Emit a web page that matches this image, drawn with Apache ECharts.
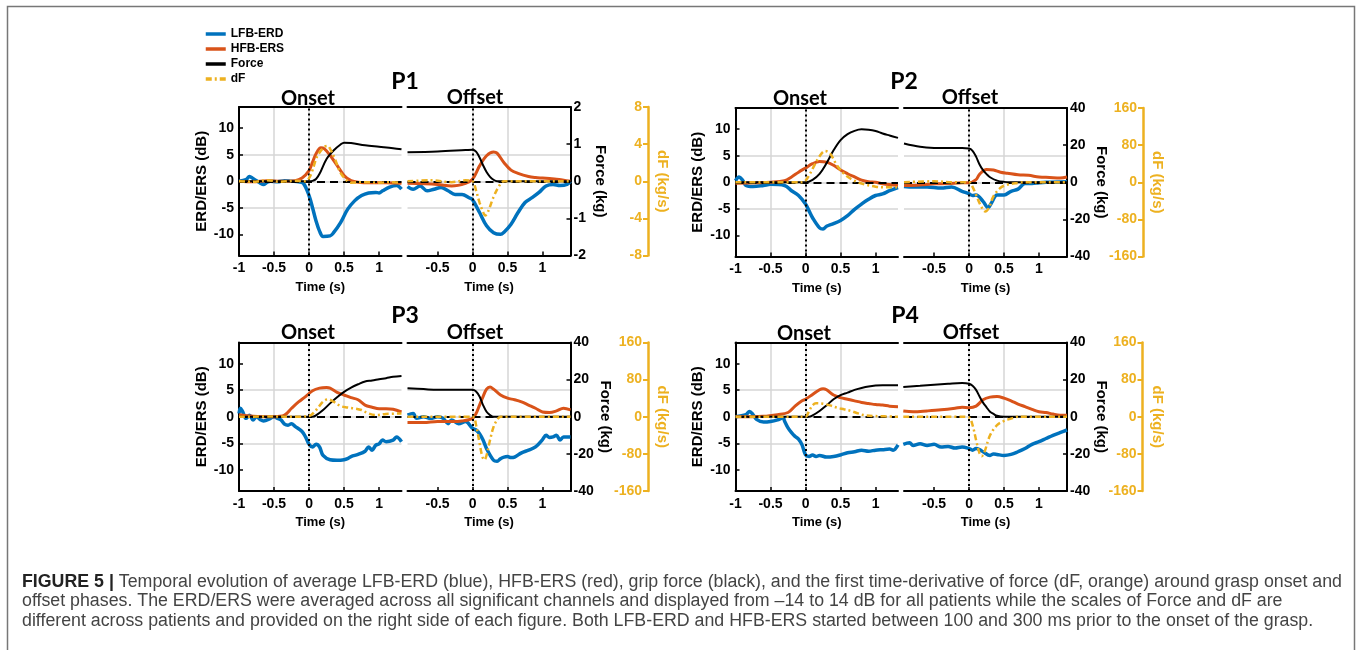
<!DOCTYPE html>
<html>
<head>
<meta charset="utf-8">
<script src="https://cdn.jsdelivr.net/npm/echarts@6/dist/echarts.min.js"></script>
<style>
  html, body { margin: 0; padding: 0; background: #fff; }
  #chart { width: 1360px; height: 650px; }
</style>
</head>
<body>
<div id="chart"></div>
<script>
/* ---- data: [time (s), value] ---- */
// P1 onset
var p1OnERD = [[-1,0],[-0.9,0.3],[-0.85,0.9],[-0.8,0.5],[-0.75,0.1],[-0.7,-0.3],[-0.65,-0.6],[-0.6,-0.2],[-0.55,0],[-0.45,-0.1],[-0.35,0.1],[-0.25,0],[-0.15,-0.1],[-0.08,-0.4],[0,-2.7],[0.05,-5],[0.1,-7.5],[0.15,-9.4],[0.2,-10.4],[0.3,-10.3],[0.35,-9.7],[0.45,-7.8],[0.55,-5.3],[0.65,-3.7],[0.75,-2.7],[0.85,-2.2],[0.95,-2.1],[1.0,-2.2],[1.05,-1.8],[1.15,-1.1],[1.25,-0.8],[1.32,-1.5]];
var p1OnERS = [[-1,0],[-0.8,-0.1],[-0.6,0.1],[-0.4,0],[-0.2,0.1],[-0.1,0.6],[0,2],[0.05,3.6],[0.1,5.2],[0.17,6.3],[0.22,6.1],[0.3,4.9],[0.4,3],[0.5,1.1],[0.6,0.1],[0.7,-0.2],[0.9,-0.3],[1.1,-0.3],[1.32,-0.4]];
var p1OnForce = [[-1,0],[0,0],[0.05,0.01],[0.1,0.06],[0.15,0.2],[0.25,0.6],[0.35,0.83],[0.45,0.99],[0.5,1.04],[0.6,1.03],[0.8,0.97],[1.0,0.93],[1.2,0.89],[1.32,0.86]];
var p1OnDF = [[-1,0],[-0.8,-0.05],[-0.6,0.1],[-0.4,-0.05],[-0.2,0.05],[-0.05,0],[0,0.33],[0.05,1.2],[0.1,2.4],[0.15,3.1],[0.22,3.7],[0.27,3.8],[0.3,3.5],[0.37,2.4],[0.45,0.9],[0.55,0],[0.6,-0.15],[0.8,-0.1],[1.0,-0.15],[1.2,-0.1],[1.32,-0.15]];
// P1 offset
var p1OffERD = [[-0.93,-1.0],[-0.85,-1.5],[-0.75,-0.9],[-0.65,-1.8],[-0.55,-1.5],[-0.45,-1.2],[-0.35,-1.8],[-0.25,-2.5],[-0.15,-2.5],[-0.05,-3.1],[0,-3.5],[0.1,-5.9],[0.2,-8.4],[0.3,-9.7],[0.4,-10],[0.45,-9.6],[0.55,-8.1],[0.65,-5.9],[0.75,-4],[0.85,-3.1],[0.95,-2.1],[1.05,-0.9],[1.15,-0.6],[1.25,-0.8],[1.35,-0.6],[1.4,0]];
var p1OffERS = [[-0.93,-0.4],[-0.5,-0.6],[-0.3,-0.9],[-0.1,-0.4],[0,0.4],[0.1,2.9],[0.2,4.8],[0.3,5.5],[0.35,5.3],[0.45,3.5],[0.55,2.1],[0.65,1.5],[0.8,0.9],[0.9,0.7],[1.0,0.6],[1.1,0.5],[1.2,0.4],[1.4,0]];
var p1OffForce = [[-0.93,0.78],[-0.5,0.8],[-0.1,0.84],[0,0.85],[0.05,0.8],[0.1,0.64],[0.15,0.43],[0.2,0.25],[0.25,0.12],[0.3,0.04],[0.35,0],[1.4,0]];
var p1OffDF = [[-0.93,0],[-0.6,0.1],[-0.3,-0.1],[-0.1,0.1],[0,0],[0.05,-1],[0.1,-2.3],[0.15,-3.3],[0.18,-3.7],[0.22,-3.3],[0.3,-1.7],[0.38,-0.5],[0.45,0],[1.4,0]];
// P2 onset
var p2OnERD = [[-1,0.3],[-0.95,1.0],[-0.9,0.4],[-0.85,-0.6],[-0.75,-0.8],[-0.6,-0.6],[-0.5,-0.4],[-0.3,-0.6],[-0.2,-1.6],[-0.1,-2.5],[0,-4.1],[0.05,-5.4],[0.1,-6.7],[0.2,-8.6],[0.25,-8.8],[0.3,-8.3],[0.4,-7.8],[0.5,-7.2],[0.6,-6.3],[0.7,-5.1],[0.8,-4.1],[0.9,-3.2],[1.0,-2.5],[1.1,-2.2],[1.2,-1.6],[1.32,-1.0]];
var p2OnERS = [[-1,-0.2],[-0.7,-0.1],[-0.5,0],[-0.3,0.3],[-0.2,1.0],[-0.1,1.9],[0,2.7],[0.1,3.5],[0.2,3.9],[0.3,3.8],[0.4,3.2],[0.5,2.3],[0.6,1.6],[0.7,1.0],[0.8,0.4],[0.9,0.1],[1.0,0],[1.1,-0.3],[1.32,-0.6]];
var p2OnForce = [[-1,0],[0,0],[0.1,1.3],[0.2,4.5],[0.3,10.3],[0.4,17.2],[0.5,22.7],[0.6,25.9],[0.7,27.7],[0.8,28.5],[0.9,28.3],[1.0,27.6],[1.1,26.3],[1.2,25.2],[1.32,23.9]];
var p2OnDF = [[-1,0],[-0.05,0],[0,3.6],[0.05,14.5],[0.1,29],[0.2,56],[0.28,67.5],[0.35,62],[0.45,36],[0.55,18],[0.65,7],[0.75,0],[0.85,-5],[1.0,-9.5],[1.1,-11],[1.32,-11]];
// P2 offset
var p2OffERD = [[-0.93,-0.8],[-0.8,-0.9],[-0.6,-0.9],[-0.4,-1.1],[-0.25,-0.9],[-0.1,-1.7],[0,-2.2],[0.05,-2.5],[0.1,-2.4],[0.2,-3.6],[0.27,-4.8],[0.32,-3.9],[0.4,-2.4],[0.5,-2.4],[0.6,-1.7],[0.7,-1.3],[0.8,-0.25],[0.9,-0.25],[1.0,-0.1],[1.1,0],[1.4,0.1]];
var p2OffERS = [[-0.93,-0.6],[-0.7,-0.5],[-0.5,-0.3],[-0.3,-0.25],[-0.1,-0.1],[0,-0.1],[0.1,0.5],[0.15,1.5],[0.25,2.4],[0.35,2.3],[0.45,1.9],[0.55,1.7],[0.7,1.4],[0.85,1.3],[1.0,1.0],[1.15,0.9],[1.3,0.8],[1.4,1.0]];
var p2OffForce = [[-0.93,20.9],[-0.7,19.1],[-0.5,18.5],[-0.3,18.4],[-0.1,18.4],[0,18.2],[0.05,16.9],[0.1,13.8],[0.15,9.6],[0.2,6.5],[0.25,4.4],[0.3,2.7],[0.4,0.9],[0.5,0.2],[0.6,0],[1.4,0]];
var p2OffDF = [[-0.93,0],[-0.5,2],[-0.2,0],[0,0],[0.05,-10],[0.1,-27],[0.15,-45],[0.2,-59],[0.23,-63],[0.28,-56],[0.35,-30],[0.45,-12],[0.55,-5],[0.7,-1.5],[0.8,0],[1.4,0]];
// P3 onset
var p3OnERD = [[-1,0.6],[-0.98,1.6],[-0.95,1],[-0.9,-0.3],[-0.85,0.3],[-0.8,-0.6],[-0.75,0],[-0.7,-0.5],[-0.65,-0.8],[-0.55,-0.3],[-0.5,0],[-0.45,-0.3],[-0.4,-0.6],[-0.35,-1.4],[-0.3,-1.6],[-0.25,-1.3],[-0.2,-1.8],[-0.1,-2.8],[-0.05,-3.8],[0,-5.2],[0.05,-5.7],[0.1,-5.2],[0.15,-5.7],[0.2,-7.3],[0.3,-8.1],[0.4,-8.2],[0.5,-8.1],[0.55,-7.9],[0.6,-7.5],[0.7,-7.1],[0.8,-6.5],[0.85,-5.7],[0.9,-6.3],[0.95,-5.4],[1.0,-5.1],[1.05,-4.4],[1.1,-4.7],[1.2,-4.4],[1.25,-3.8],[1.32,-4.7]];
var p3OnERS = [[-1,0.4],[-0.8,0.1],[-0.5,0],[-0.35,0.3],[-0.25,1.6],[-0.15,2.8],[-0.05,3.8],[0.05,4.9],[0.15,5.4],[0.25,5.5],[0.3,5.4],[0.4,4.6],[0.5,4.1],[0.6,3.6],[0.7,3.2],[0.8,2.2],[0.9,1.8],[1.0,1.5],[1.1,1.5],[1.2,1.4],[1.32,0.9]];
var p3OnForce = [[-1,0],[0.05,0],[0.12,1.3],[0.2,3.6],[0.3,7.2],[0.4,10.5],[0.5,13.4],[0.6,15.7],[0.7,17.5],[0.8,19],[0.9,19.5],[1.0,20.2],[1.1,20.8],[1.2,21.5],[1.32,22]];
var p3OnDF = [[-1,0],[-0.5,0.5],[-0.2,0],[0,1.5],[0.1,14.5],[0.2,32.5],[0.27,37.6],[0.35,32.5],[0.45,23],[0.55,20],[0.65,18],[0.75,14.5],[0.85,7],[0.95,3.6],[1.1,6],[1.32,7]];
// P3 offset
var p3OffERD = [[-0.93,0.3],[-0.85,0.6],[-0.8,-0.3],[-0.7,0],[-0.6,-0.3],[-0.5,0],[-0.42,-0.3],[-0.35,-1.3],[-0.3,-0.6],[-0.2,-1.3],[-0.1,-0.9],[0,-2.2],[0.05,-2.5],[0.1,-3.2],[0.15,-4.4],[0.2,-6],[0.3,-8.2],[0.35,-8.4],[0.4,-7.9],[0.45,-7.6],[0.5,-7.5],[0.55,-7.7],[0.6,-7.6],[0.7,-6.8],[0.8,-6.3],[0.9,-5.7],[1.0,-4.3],[1.05,-3.5],[1.1,-3.9],[1.15,-3.8],[1.2,-3.5],[1.25,-4.4],[1.3,-3.8],[1.4,-3.8]];
var p3OffERS = [[-0.93,-1.1],[-0.7,-1.1],[-0.5,-0.9],[-0.3,-0.9],[-0.15,-0.8],[0,-0.3],[0.05,0.6],[0.1,2.2],[0.15,3.8],[0.2,5.2],[0.25,5.6],[0.3,5.2],[0.4,4.1],[0.5,3.5],[0.6,3.2],[0.7,2.8],[0.8,2.2],[0.9,1.6],[1.0,0.9],[1.1,0.8],[1.2,1.1],[1.3,1.6],[1.4,1.3]];
var p3OffForce = [[-0.93,15.4],[-0.7,14.9],[-0.5,14.5],[0,14.5],[0.05,13.6],[0.1,10.9],[0.15,6.3],[0.2,2.7],[0.25,0.9],[0.3,0],[1.4,0]];
var p3OffDF = [[-0.93,0],[0,0],[0.05,-18],[0.1,-57],[0.14,-86],[0.17,-93],[0.2,-83],[0.25,-50],[0.3,-22],[0.35,-7],[0.4,0],[1.4,0]];
// P4 onset
var p4OnERD = [[-1,0],[-0.85,0.4],[-0.8,1.0],[-0.75,0.4],[-0.7,-0.5],[-0.6,-1.0],[-0.5,-0.9],[-0.4,-0.6],[-0.32,-0.2],[-0.3,-0.8],[-0.25,-2.1],[-0.2,-3],[-0.15,-3.7],[-0.1,-4.2],[-0.05,-5.3],[0,-7.2],[0.05,-7.5],[0.1,-7.2],[0.15,-7.5],[0.2,-7.3],[0.3,-7.6],[0.4,-7.5],[0.5,-7.2],[0.6,-6.8],[0.7,-6.6],[0.8,-6.3],[0.9,-6.5],[1.0,-6.3],[1.1,-6.2],[1.2,-6.1],[1.25,-6.3],[1.32,-5.3]];
var p4OnERS = [[-1,0],[-0.6,0.1],[-0.4,0.4],[-0.25,0.8],[-0.15,2.0],[-0.05,3.0],[0,3.3],[0.1,4.2],[0.2,5.1],[0.25,5.3],[0.3,5.1],[0.4,4.1],[0.5,3.6],[0.6,3.3],[0.7,3.0],[0.8,2.7],[0.9,2.5],[1.0,2.3],[1.1,2.2],[1.2,2.0],[1.32,1.9]];
var p4OnForce = [[-1,0],[0.05,0],[0.1,0.7],[0.2,3.1],[0.3,6.1],[0.4,9.4],[0.5,11.6],[0.6,13],[0.7,14.5],[0.8,15.5],[0.9,16.3],[1.0,16.8],[1.1,17],[1.32,17]];
var p4OnDF = [[-1,0],[-0.05,0],[0,0],[0.05,12.3],[0.1,24.6],[0.15,29],[0.25,28],[0.35,24.6],[0.45,19.5],[0.55,16],[0.65,12.3],[0.75,7.2],[0.85,3],[1.0,1.5],[1.32,0]];
// P4 offset
var p4OffERD = [[-0.94,-5.2],[-0.85,-4.9],[-0.8,-5.4],[-0.7,-5.1],[-0.6,-5.4],[-0.5,-5.2],[-0.4,-5.7],[-0.3,-5.6],[-0.2,-5.9],[-0.1,-5.7],[0,-6.0],[0.05,-6.3],[0.1,-6.0],[0.15,-6.2],[0.2,-6.6],[0.3,-7.3],[0.35,-7],[0.4,-7.1],[0.5,-7.3],[0.6,-7.1],[0.7,-6.6],[0.8,-6.0],[0.9,-5.2],[1.0,-4.7],[1.1,-4.1],[1.2,-3.5],[1.3,-3.0],[1.4,-2.5]];
var p4OffERS = [[-0.94,1.1],[-0.8,0.95],[-0.6,1.1],[-0.4,1.3],[-0.2,1.6],[-0.1,1.8],[0,1.7],[0.1,2.0],[0.2,3.2],[0.3,3.7],[0.4,3.8],[0.5,3.5],[0.6,3.0],[0.7,2.4],[0.8,1.9],[0.9,1.4],[1.0,0.95],[1.1,0.8],[1.2,0.5],[1.3,0.3],[1.4,0.3]];
var p4OffForce = [[-0.94,16],[-0.7,16.7],[-0.5,17.3],[-0.3,17.8],[-0.1,18.2],[0,17.8],[0.05,16.7],[0.1,14.5],[0.15,10.9],[0.2,7.6],[0.25,5.1],[0.3,2.7],[0.35,1.5],[0.4,0.5],[0.5,0],[1.4,0]];
var p4OffDF = [[-0.94,0],[-0.1,0],[0,-1.5],[0.05,-18],[0.1,-50],[0.15,-79],[0.18,-85],[0.22,-76],[0.3,-40],[0.4,-18],[0.5,-9],[0.6,-4],[0.7,0],[1.4,0]];

// axis ticks
var onsetTicks = [-1, -0.5, 0, 0.5, 1];
var offsetTicks = [-0.5, 0, 0.5, 1];
var erdTicks = [-10, -5, 0, 5, 10];
var seriesNames = ['LFB-ERD', 'HFB-ERS', 'Force', 'dF'];

/* ---- layout ---- */
var BLUE = '#0072BD', RED = '#D95319', YEL = '#EDB120', GRIDC = '#d6d6d6';
var FONT = '"Liberation Sans", Arial, sans-serif';
var H = 148.5, W_ON = 162.5, W_OFF = 163, GAP = 6;

var panels = [
  {name: 'P1', left: 239, top: 107, dFX: 648, fMax: 2, fStep: 1, dMax: 8, dStep: 4,
   on: [p1OnERD, p1OnERS, p1OnForce, p1OnDF], off: [p1OffERD, p1OffERS, p1OffForce, p1OffDF]},
  {name: 'P2', left: 735.5, top: 108, dFX: 1143, fMax: 40, fStep: 20, dMax: 160, dStep: 80,
   on: [p2OnERD, p2OnERS, p2OnForce, p2OnDF], off: [p2OffERD, p2OffERS, p2OffForce, p2OffDF]},
  {name: 'P3', left: 239, top: 342.5, dFX: 648, fMax: 40, fStep: 20, dMax: 160, dStep: 80,
   on: [p3OnERD, p3OnERS, p3OnForce, p3OnDF], off: [p3OffERD, p3OffERS, p3OffForce, p3OffDF]},
  {name: 'P4', left: 735.5, top: 342.5, dFX: 1142.5, fMax: 40, fStep: 20, dMax: 160, dStep: 80,
   on: [p4OnERD, p4OnERS, p4OnForce, p4OnDF], off: [p4OffERD, p4OffERS, p4OffForce, p4OffDF]}
];

var lineStyles = [
  {color: BLUE, width: 3.5},
  {color: RED, width: 3},
  {color: '#000', width: 2},
  {color: YEL, width: 2.5, type: [6, 3, 2, 3]}
];

var grid = [], xAxis = [], yAxis = [], series = [], graphic = [];
var blackLine = {onZero: false, lineStyle: {color: '#000', width: 2}};
var tickLabel = {color: '#000', fontFamily: FONT, fontWeight: 'bold', fontSize: 14};
var nameText = {color: '#000', fontFamily: FONT, fontWeight: 'bold', fontSize: 14};

panels.forEach(function (p) {
  [0, 1].forEach(function (j) {
    var g = grid.length;
    var isOn = j === 0;
    var left = isOn ? p.left : p.left + W_ON + GAP;
    var width = isOn ? W_ON : W_OFF;
    grid.push({left: left, top: p.top, width: width, height: H});

    var xr = isOn ? [-1, 1.32] : [-0.93, 1.4];
    var ticks = isOn ? onsetTicks : offsetTicks;
    // bottom time axis
    xAxis.push({
      type: 'value', gridIndex: g, min: xr[0], max: xr[1], position: 'bottom',
      name: 'Time (s)', nameLocation: 'middle', nameGap: 25, nameTextStyle: Object.assign({}, nameText, {fontSize: 13}),
      axisLine: blackLine,
      axisTick: {inside: true, length: 4, customValues: ticks, lineStyle: {color: '#000', width: 1.5}},
      axisLabel: Object.assign({customValues: ticks, margin: 6}, tickLabel),
      splitLine: {show: true, showMinLine: false, showMaxLine: false, lineStyle: {color: GRIDC, width: 1.5}}
    });
    // top border
    xAxis.push({
      type: 'value', gridIndex: g, min: xr[0], max: xr[1], position: 'top',
      axisLine: blackLine, axisTick: {show: false}, axisLabel: {show: false}, splitLine: {show: false}
    });

    // ERD/ERS axis
    var yErd = yAxis.length;
    yAxis.push({
      type: 'value', gridIndex: g, min: -14, max: 14, position: 'left',
      name: isOn ? 'ERD/ERS (dB)' : '', nameLocation: 'middle', nameGap: 30, nameTextStyle: Object.assign({}, nameText, {fontSize: 15}),
      axisLine: {show: isOn, onZero: false, lineStyle: {color: '#000', width: 2}},
      axisTick: {show: isOn, inside: true, length: 4, customValues: erdTicks, lineStyle: {color: '#000', width: 1.5}},
      axisLabel: Object.assign({show: isOn, customValues: erdTicks, margin: 5}, tickLabel),
      splitLine: {show: true, showMinLine: false, showMaxLine: false, lineStyle: {color: GRIDC, width: 1.5}}
    });
    // Force axis
    var yF = yAxis.length;
    yAxis.push({
      type: 'value', gridIndex: g, min: -p.fMax, max: p.fMax, interval: p.fStep, position: 'right', show: !isOn,
      name: 'Force (kg)', nameLocation: 'middle', nameRotate: -90, nameGap: 22, nameTextStyle: Object.assign({}, nameText, {fontSize: 15}),
      axisLine: {show: true, onZero: false, lineStyle: {color: '#000', width: 2}},
      axisTick: {inside: true, length: 4, lineStyle: {color: '#000', width: 1.5}},
      axisLabel: Object.assign({margin: 3}, tickLabel),
      splitLine: {show: false}
    });
    // dF axis
    var yD = yAxis.length;
    yAxis.push({
      type: 'value', gridIndex: g, min: -p.dMax, max: p.dMax, interval: p.dStep, position: 'right', show: !isOn,
      offset: p.dFX - (left + width),
      name: 'dF (kg/s)', nameLocation: 'middle', nameRotate: -90, nameGap: 7, nameTextStyle: Object.assign({}, nameText, {color: YEL, fontSize: 15}),
      axisLine: {show: true, onZero: false, lineStyle: {color: YEL, width: 2.5}},
      axisTick: {inside: true, length: 5, lineStyle: {color: YEL, width: 2}},
      axisLabel: Object.assign({}, tickLabel, {inside: true, margin: 6, color: YEL}),
      splitLine: {show: false}
    });

    var sets = isOn ? p.on : p.off;
    var yIdx = [yErd, yErd, yF, yD];
    sets.forEach(function (data, k) {
      var s = {
        type: 'line', name: seriesNames[k], xAxisIndex: 2 * g, yAxisIndex: yIdx[k],
        data: data, showSymbol: false, symbol: 'none', smooth: 0.35,
        lineStyle: lineStyles[k], itemStyle: {color: lineStyles[k].color},
        silent: true, z: 3 + k
      };
      if (k === 0) {
        s.markLine = {
          silent: true, symbol: ['none', 'none'], label: {show: false}, animation: false,
          data: [
            {yAxis: 0, lineStyle: {color: '#000', width: 2, type: [8, 5]}},
            {xAxis: 0, lineStyle: {color: '#000', width: 2, type: [2, 3]}}
          ]
        };
      }
      series.push(s);
    });
  });
});

/* ---- titles ---- */
function txt(text, x, y, size, family, color, weight) {
  return {
    type: 'text', x: x, y: y, silent: true,
    style: {text: text, align: 'center', verticalAlign: 'middle', textAlign: 'center', textVerticalAlign: 'middle',
      fontSize: size, fontFamily: family, fontWeight: weight || 'bold', fill: color || '#000'}
  };
}
var TF = 'Lato, "Open Sans", sans-serif';
graphic.push(txt('P1', 405, 82, 23, TF));
graphic.push(txt('P2', 904, 82, 23, TF));
graphic.push(txt('P3', 405, 316, 23, TF));
graphic.push(txt('P4', 905, 316, 23, TF));
graphic.push(txt('Onset', 308, 99, 20, TF));
graphic.push(txt('Offset', 475, 98, 20, TF));
graphic.push(txt('Onset', 800, 99, 20, TF));
graphic.push(txt('Offset', 970, 98, 20, TF));
graphic.push(txt('Onset', 308, 333, 20, TF));
graphic.push(txt('Offset', 475, 333, 20, TF));
graphic.push(txt('Onset', 804, 334, 20, TF));
graphic.push(txt('Offset', 971, 333, 20, TF));

/* ---- frame and caption ---- */
graphic.push({type: 'rect', silent: true, shape: {x: 7.5, y: 6.5, width: 1347, height: 700},
  style: {fill: 'none', stroke: '#777', lineWidth: 1.5}});

var capBold = 'FIGURE 5 |';
var capLines = [
  ' Temporal evolution of average LFB-ERD (blue), HFB-ERS (red), grip force (black), and the first time-derivative of force (dF, orange) around grasp onset and',
  'offset phases. The ERD/ERS were averaged across all significant channels and displayed from \u201314 to 14 dB for all patients while the scales of Force and dF are',
  'different across patients and provided on the right side of each figure. Both LFB-ERD and HFB-ERS started between 100 and 300 ms prior to the onset of the grasp.'
];
var CAP_SIZE = 18;
var ctx = document.createElement('canvas').getContext('2d');
ctx.font = 'bold ' + CAP_SIZE + 'px "Liberation Sans"';
var wBold = ctx.measureText(capBold).width;
ctx.font = CAP_SIZE + 'px "Liberation Sans"';
var wLine1 = wBold + ctx.measureText(capLines[0]).width;
var capScale = 1320 / wLine1;
var capY = [582, 601.5, 621];
capLines.forEach(function (line, i) {
  graphic.push({
    type: 'text', x: 22, y: capY[i], scaleX: capScale, silent: true,
    style: {
      text: i === 0 ? '{b|' + capBold + '}' + line : line,
      align: 'left', verticalAlign: 'middle', textAlign: 'left', textVerticalAlign: 'middle',
      fontSize: CAP_SIZE, fontFamily: '"Liberation Sans"', fill: '#444',
      rich: {b: {fontSize: CAP_SIZE, fontFamily: '"Liberation Sans"', fontWeight: 'bold', fill: '#222', color: '#222'}}
    }
  });
});

var chart = echarts.init(document.getElementById('chart'));
chart.setOption({
  animation: false,
  backgroundColor: '#fff',
  legend: {
    data: seriesNames, orient: 'vertical', left: 204, top: 28, padding: 0, itemGap: 3,
    itemWidth: 20, itemHeight: 13, selectedMode: false,
    itemStyle: {opacity: 0},
    lineStyle: {width: 3.5},
    textStyle: {fontFamily: FONT, fontWeight: 'bold', fontSize: 12, color: '#000'}
  },
  grid: grid,
  xAxis: xAxis,
  yAxis: yAxis,
  series: series,
  graphic: graphic
});
</script>
</body>
</html>
